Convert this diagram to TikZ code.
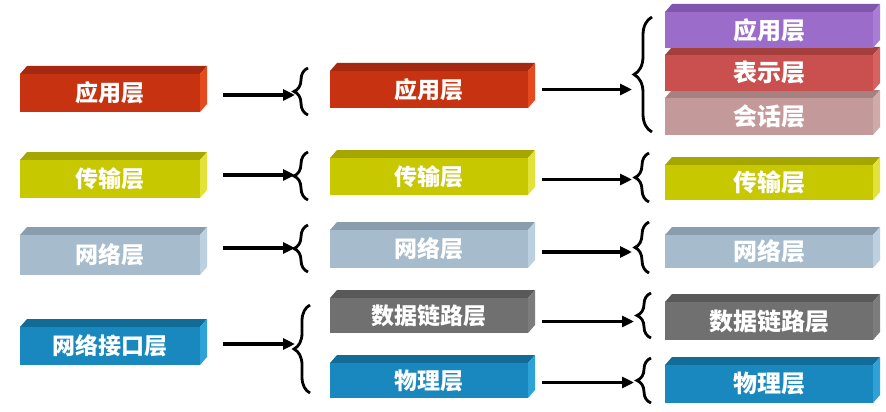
\documentclass[tikz,border=0pt]{standalone}
\usepackage{fontspec}
\newfontfamily\cjk{Noto Sans CJK SC}
\usetikzlibrary{arrows.meta,decorations.pathreplacing}
\definecolor{redF}{HTML}{C73210}\definecolor{redT}{HTML}{A52810}\definecolor{redS}{HTML}{E54A1E}
\definecolor{yelF}{HTML}{C8C800}\definecolor{yelT}{HTML}{A6A600}\definecolor{yelS}{HTML}{E2E23A}
\definecolor{lbF}{HTML}{A6BBCC}\definecolor{lbT}{HTML}{8A9DAE}\definecolor{lbS}{HTML}{BDD0E0}
\definecolor{blF}{HTML}{1888BE}\definecolor{blT}{HTML}{126C98}\definecolor{blS}{HTML}{2EA2D8}
\definecolor{grF}{HTML}{707070}\definecolor{grT}{HTML}{595959}\definecolor{grS}{HTML}{7C7C7C}
\definecolor{puF}{HTML}{9B6CC9}\definecolor{puT}{HTML}{7F55AE}\definecolor{puS}{HTML}{A97DD6}
\definecolor{rdF}{HTML}{C9504E}\definecolor{rdT}{HTML}{A53F3D}\definecolor{rdS}{HTML}{D66260}
\definecolor{pkF}{HTML}{C39A99}\definecolor{pkT}{HTML}{A68181}\definecolor{pkS}{HTML}{D0AAA9}
% #1 name, #2 x1, #3 y front top, #4 x2, #5 y bottom, #6 colour prefix, #7 text, #8 font size
\newcommand\layerbox[8]{%
  \fill[#6T] (#2,#3) -- ({#2+7},{#3-8}) -- ({#4+7},{#3-8}) -- (#4,#3) -- cycle;
  \fill[#6S] (#4,#3) -- ({#4+7},{#3-8}) -- ({#4+7},{#5-8}) -- (#4,#5) -- cycle;
  \node[layer, fill=#6F, minimum width={(#4-#2)*1pt}, minimum height={(#5-#3)*1pt},
        font=\cjk\bfseries\fontsize{#8}{#8}\selectfont] (#1) at ({(#2+#4)/2},{(#3+#5)/2}) {#7};}
\begin{document}
\begin{tikzpicture}[x=1pt,y=-1pt,
  layer/.style={rectangle, inner sep=0pt, outer sep=0pt, draw=none, text=white},
  arr/.style={line width=3.2pt, -{Triangle[length=12pt,width=11pt]}},
  brc/.style={decorate, line width=2.8pt, decoration={brace, amplitude=#1, aspect=0.5}},
  brc/.default=14pt]
\useasboundingbox (0,0) rectangle (886,412);
\fill[white] (0,0) rectangle (886,412);
% left column
\layerbox{L1}{20}{74}{200}{112}{red}{应用层}{23}
\layerbox{L2}{20}{160}{200}{198}{yel}{传输层}{23}
\layerbox{L3}{20}{235}{200}{275}{lb}{网络层}{23}
\layerbox{L4}{20}{327}{200}{365}{bl}{网络接口层}{23}
% middle column
\layerbox{M1}{330}{71}{528}{108}{red}{应用层}{23}
\layerbox{M2}{330}{158}{528}{195}{yel}{传输层}{23}
\layerbox{M3}{330}{230}{528}{268}{lb}{网络层}{23}
\layerbox{M4}{330}{298}{528}{333}{gr}{数据链路层}{23}
\layerbox{M5}{330}{363}{528}{398}{bl}{物理层}{23}
% right column
\layerbox{R3}{665}{98}{873}{135}{pk}{会话层}{24}
\layerbox{R2}{665}{55}{873}{91}{rd}{表示层}{24}
\layerbox{R1}{665}{12}{873}{48}{pu}{应用层}{24}
\layerbox{R4}{665}{165}{873}{200}{yel}{传输层}{24}
\layerbox{R5}{665}{235}{873}{268}{lb}{网络层}{24}
\layerbox{R6}{665}{302}{873}{340}{gr}{数据链路层}{24}
\layerbox{R7}{665}{365}{873}{403}{bl}{物理层}{24}
% brace end points
\coordinate (b1b) at (308,115); \coordinate (b1t) at (308,68);
\coordinate (b2b) at (308,200); \coordinate (b2t) at (308,152);
\coordinate (b3b) at (308,272); \coordinate (b3t) at (308,225);
\coordinate (b4b) at (310,393); \coordinate (b4t) at (310,305);
\coordinate (b5b) at (652,132); \coordinate (b5t) at (652,17);
\coordinate (b6b) at (649,202); \coordinate (b6t) at (649,153);
\coordinate (b7b) at (649,273); \coordinate (b7t) at (649,222);
\coordinate (b8b) at (651,338); \coordinate (b8t) at (651,293);
\coordinate (b9b) at (651,403); \coordinate (b9t) at (651,358);
\draw[brc] (b1b) -- (b1t);
\draw[brc] (b2b) -- (b2t);
\draw[brc] (b3b) -- (b3t);
\draw[brc=16pt] (b4b) -- (b4t);
\draw[brc=18pt] (b5b) -- (b5t);
\draw[brc] (b6b) -- (b6t);
\draw[brc] (b7b) -- (b7t);
\draw[brc] (b8b) -- (b8t);
\draw[brc] (b9b) -- (b9t);
% arrows left -> middle
\draw[arr] ([xshift=23pt,yshift=-2pt]L1.east) -- ([xshift=-13pt,yshift=-2pt]L1.east -| b1t);
\draw[arr] ([xshift=23pt,yshift=4pt]L2.east) -- ([xshift=-13pt,yshift=4pt]L2.east -| b2t);
\draw[arr] ([xshift=23pt,yshift=7pt]L3.east) -- ([xshift=-13pt,yshift=7pt]L3.east -| b3t);
\draw[arr] ([xshift=23pt,yshift=2pt]L4.east) -- ([xshift=-15pt,yshift=2pt]L4.east -| b4t);
% arrows middle -> right
\draw[arr] ([xshift=14pt]M1.east) -- ([xshift=-17pt]M1.east -| b6t);
\draw[arr] ([xshift=14pt,yshift=-3pt]M2.east) -- ([xshift=-17pt,yshift=-3pt]M2.east -| b6t);
\draw[arr] ([xshift=14pt,yshift=-3pt]M3.east) -- ([xshift=-17pt,yshift=-3pt]M3.east -| b7t);
\draw[arr] ([xshift=14pt,yshift=-6pt]M4.east) -- ([xshift=-17pt,yshift=-6pt]M4.east -| b8t);
\draw[arr] ([xshift=14pt,yshift=-2pt]M5.east) -- ([xshift=-17pt,yshift=-2pt]M5.east -| b9t);
\end{tikzpicture}
\end{document}
